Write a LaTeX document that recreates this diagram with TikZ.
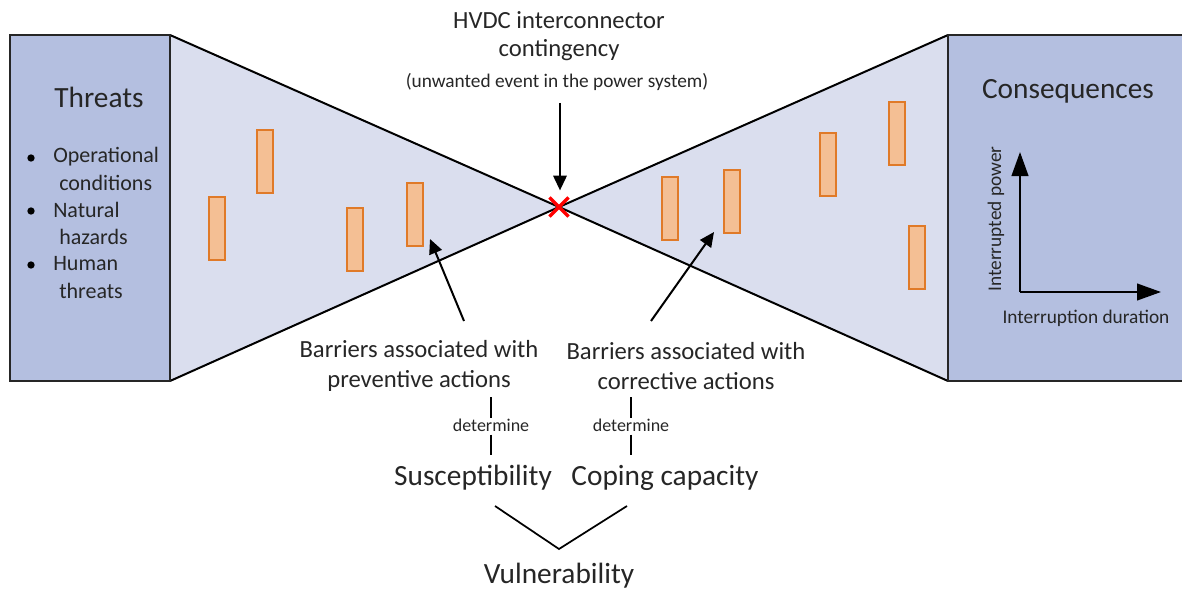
\documentclass[tikz,border=0pt]{standalone}
\usepackage{fontspec}
\setmainfont{Carlito}
\usetikzlibrary{arrows.meta,calc,shapes.misc}
\definecolor{boxfill}{RGB}{180,191,224}
\definecolor{wedgefill}{RGB}{218,222,238}
\definecolor{barfill}{RGB}{244,191,148}
\definecolor{barline}{RGB}{224,122,40}
\definecolor{ink}{RGB}{38,38,38}
\begin{document}
\begin{tikzpicture}[x=0.75pt,y=-0.75pt,
  txt/.style={text=ink,inner sep=0pt,align=center},
  big/.style={txt,font=\fontsize{22}{26}\selectfont},
  mid/.style={txt,font=\fontsize{18.5}{22}\selectfont},
  small/.style={txt,font=\fontsize{14.5}{17}\selectfont},
  item/.style={txt,anchor=west,font=\fontsize{16.5}{20}\selectfont},
  dot/.style={circle,fill=black,inner sep=0pt,minimum size=5.5pt},
  panel/.style={draw=black!85,line width=1.5pt,fill=boxfill},
  edge/.style={draw=black,line width=1.5pt},
  bar/.style={draw=barline,fill=barfill,line width=1.5pt},
  arr/.style={draw=black,line width=1.5pt,-{Triangle[length=11pt,width=10pt]}},
  axis/.style={draw=black,line width=1.6pt,-{Triangle[length=18pt,width=12.5pt]}},
  tie/.style={draw=black,line width=1.2pt},
  event/.style={cross out,draw=red,line width=2.4pt,inner sep=0pt,minimum size=12pt}]
\useasboundingbox (0,0) rectangle (1182,592);

% bow-tie wedges
\coordinate (ctr) at (559,207);
\fill[wedgefill] (170,35) -- (ctr) -- (170,381) -- cycle;
\fill[wedgefill] (948,35) -- (ctr) -- (948,381) -- cycle;
\draw[edge] (170,35) -- (ctr) -- (948,381);
\draw[edge] (170,381) -- (ctr) -- (948,35);

% side panels
\draw[panel] (10,35) rectangle (170,381);
\draw[panel] (948,35) rectangle (1190,381);

% barriers (left)
\draw[bar] (209,197) rectangle ++(16,63);
\draw[bar] (257,130) rectangle ++(16,63);
\draw[bar] (347,208) rectangle ++(16,63);
\draw[bar] (407,183) rectangle ++(16,63);
% barriers (right)
\draw[bar] (662,177) rectangle ++(16,63);
\draw[bar] (724,170) rectangle ++(16,63);
\draw[bar] (820,133) rectangle ++(16,63);
\draw[bar] (889,102) rectangle ++(16,63);
\draw[bar] (909,226) rectangle ++(16,63);

% top event
\node[event] (xmark) at (ctr) {};
\node[mid] (hvdc) at (559,20) {HVDC interconnector};
\node[mid] (cont) at (559,50) {contingency};
\node[txt,font=\fontsize{14.5}{17}\selectfont] (event) at (557,82) {(unwanted event in the power system)};
\coordinate (evtail) at (560,103);
\draw[arr] (evtail) -- ($(xmark.north)+(1,-7)$);

% threats panel
\node[big] (threats) at (99,97) {Threats};
\node[dot] (b1) at (31,158) {};
\node[dot] (b2) at (31,211) {};
\node[dot] (b3) at (31,265) {};
\node[item] (t1) at (53,157) {Operational};
\node[item] (t2) at (59,183) {conditions};
\node[item] (t3) at (53,210) {Natural};
\node[item] (t4) at (59,237) {hazards};
\node[item] (t5) at (53,264) {Human};
\node[item] (t6) at (59,291) {threats};

% consequences panel
\node[big] (cons) at (1068,91) {Consequences};
\coordinate (orig) at (1020,292);
\coordinate (ytop) at (1020,152);
\coordinate (xend) at (1161,292);
\draw[axis] (orig) -- (ytop);
\draw[axis] (orig) -- (xend);
\node[small,rotate=90] (ylab) at (996,219) {Interrupted power};
\node[small] (xlab) at (1086,318) {Interruption duration};

% barrier labels
\node[mid] (prev) at (419,366) {Barriers associated with\\preventive actions};
\node[mid] (corr) at (686,366) {Barriers associated with\\corrective actions};
\coordinate (prevtail) at (464,321);
\coordinate (prevtip) at (430,239);
\coordinate (corrtail) at (651,321);
\coordinate (corrtip) at (714,232);
\draw[arr] (prevtail) -- (prevtip);
\draw[arr] (corrtail) -- (corrtip);

% determine links
\node[txt,font=\fontsize{13.5}{16}\selectfont] (detL) at (491,425) {determine};
\node[txt,font=\fontsize{13.5}{16}\selectfont] (detR) at (631,425) {determine};
\node[big] (susc) at (473,478) {Susceptibility};
\node[big] (cope) at (665,478) {Coping capacity};
\draw[tie] (491,397) -- (detL.north);
\draw[tie] (detL.south) ++(0,3) -- (491,455);
\draw[tie] (631,397) -- (detR.north);
\draw[tie] (detR.south) ++(0,3) -- (631,455);

% vulnerability
\coordinate (vl) at (495,506);
\coordinate (vb) at (559,549);
\coordinate (vr) at (627,506);
\draw[edge,line width=1.3pt] (vl) -- (vb) -- (vr);
\node[big] (vuln) at (559,576) {Vulnerability};
\end{tikzpicture}
\end{document}
